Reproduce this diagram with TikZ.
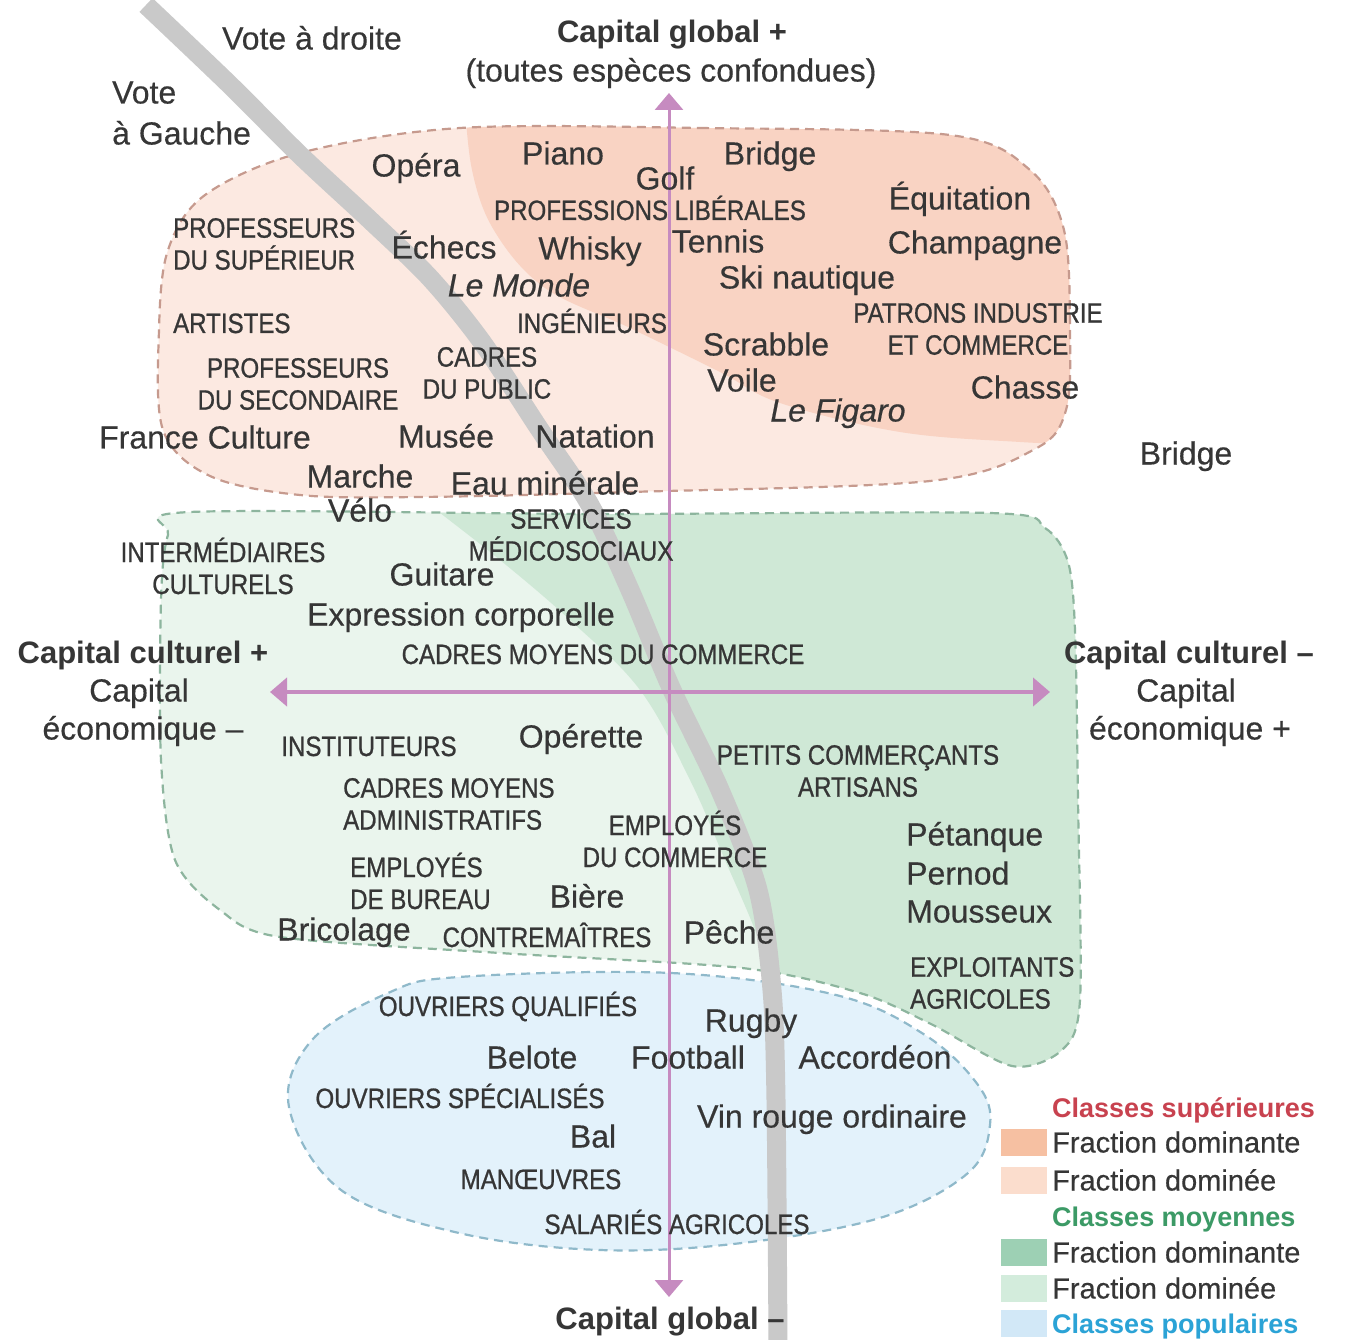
\documentclass[tikz,border=0pt]{standalone}
\usepackage{fontspec}
\setmainfont{Liberation Sans}
\newfontfamily\condf[FakeStretch=0.86,FakeBold=0.8]{Liberation Sans}
\newfontfamily\wordf[FakeBold=0.4]{Liberation Sans}
\usetikzlibrary{arrows.meta}
\definecolor{txt}{HTML}{363636}
\definecolor{axiscol}{HTML}{C68BC0}
\definecolor{graycurve}{HTML}{C9C9C9}
\definecolor{salLight}{HTML}{FCE9E1}
\definecolor{salDark}{HTML}{F9D3C3}
\definecolor{salDash}{HTML}{C69A8E}
\definecolor{grnLight}{HTML}{EAF5ED}
\definecolor{grnDark}{HTML}{CFE8D6}
\definecolor{grnDash}{HTML}{8DB59E}
\definecolor{bluFill}{HTML}{E3F2FB}
\definecolor{bluDash}{HTML}{8FB9CA}
\definecolor{legSalA}{HTML}{F6C0A2}
\definecolor{legSalB}{HTML}{FBDDCD}
\definecolor{legGrnA}{HTML}{9DD0B4}
\definecolor{legGrnB}{HTML}{D3ECDC}
\definecolor{legBlu}{HTML}{D2E8F7}
\definecolor{legRed}{HTML}{C8424F}
\definecolor{legGreen}{HTML}{3C9A66}
\definecolor{legBlue}{HTML}{2BA3D6}
\begin{document}
\begin{tikzpicture}[x=1pt,y=-1pt,
  word/.style={text=txt,font=\wordf\fontsize{32}{38}\selectfont,inner sep=0pt,text height=23pt,text depth=0pt},
  itword/.style={word,font=\wordf\fontsize{32}{38}\selectfont\itshape},
  boldword/.style={word,font=\bfseries\fontsize{31}{38}\selectfont,text height=22pt},
  capsw/.style={text=txt,font=\condf\fontsize{28}{32}\selectfont,inner sep=0pt,text height=20pt,text depth=0pt},
  capsm/.style={text=txt,font=\condf\fontsize{28}{32}\selectfont,inner sep=0pt,align=center},
  capsl/.style={capsm,align=left,anchor=west},
  regiondash/.style={dash pattern=on 9pt off 6pt,line width=2.2pt},
  axisline/.style={draw=axiscol,{Triangle[length=17pt,width=28pt]}-{Triangle[length=17pt,width=28pt]}},
  legsq/.style={rectangle,inner sep=0pt,minimum width=46pt,minimum height=27pt},
  legtitle/.style={font=\bfseries\fontsize{27}{32}\selectfont,inner sep=0pt,anchor=west,text height=20pt,text depth=0pt},
  legtext/.style={text=txt,font=\wordf\fontsize{29}{32}\selectfont,inner sep=0pt,anchor=west,text height=21pt,text depth=0pt}
]
\useasboundingbox (0,0) rectangle (1345,1340);
\fill[white] (0,0) rectangle (1345,1340);

% ---------- upper classes region ----------
\def\salpath{plot[smooth cycle,tension=0.55] coordinates {(460,128) (700,128) (950,135) (1030,170) (1064,230) (1070,330) (1066,410) (1035,449) (930,481) (630,492) (420,497) (300,495) (210,476) (163,430) (159,330) (168,250) (205,195) (300,153)}}
\fill[salLight] \salpath;
\begin{scope}
  \clip \salpath;
  \fill[salDark] plot[smooth,tension=0.6] coordinates {(1100,445) (1020,442) (900,432) (780,403) (720,372) (630,328) (545,288) (495,232) (472,170) (464,90)} -- (1100,90) -- cycle;
\end{scope}
\draw[salDash,regiondash] \salpath;

% ---------- middle classes region ----------
\def\grnpath{plot[smooth cycle,tension=0.5] coordinates {(190,512) (600,514) (990,513) (1045,528) (1068,562) (1075,630) (1078,800) (1080,1000) (1062,1050) (1012,1066) (931,1024) (860,993) (742,968) (500,953) (280,937) (220,910) (175,860) (161,760) (161,600) (168,535)}}
\fill[grnLight] \grnpath;
\begin{scope}
  \clip \grnpath;
  \fill[grnDark] plot[smooth,tension=0.6] coordinates {(800,1100) (780,1000) (755,930) (725,860) (690,780) (640,690) (570,620) (500,560) (430,505) (400,480)} -- (1120,480) -- (1120,1100) -- cycle;
\end{scope}
\draw[grnDash,regiondash] \grnpath;

% ---------- working classes region ----------
\def\blupath{plot[smooth cycle,tension=0.6] coordinates {(459,977) (671,973) (836,995) (925,1035) (978,1085) (990,1125) (968,1173) (883,1217) (742,1243) (600,1250) (459,1233) (341,1190) (289,1107) (312,1040) (388,993)}}
\fill[bluFill] \blupath;
\draw[bluDash,regiondash] \blupath;

% ---------- vote divide ----------
\draw[graycurve,line width=19pt] plot[smooth,tension=0.5] coordinates {(146,5) (230,85) (300,155) (370,220) (430,278) (482,342) (540,430) (590,505) (630,590) (672,690) (720,790) (758,890) (772,990) (776,1100) (778,1345)};

% ---------- axes ----------
\coordinate (axT) at (669,93);
\coordinate (axB) at (669,1297);
\coordinate (axL) at (270,692);
\coordinate (axR) at (1050,692);
\draw[axisline,line width=3pt] (axB) -- (axT);
\draw[axisline,line width=4.5pt] (axL) -- (axR);

% ---------- axis titles ----------
\node[boldword] (tTop) at (672,32) {Capital global +};
\node[word] (tTop2) at (671,70) {(toutes espèces confondues)};
\node[boldword] (tBot) at (670,1318) {Capital global –};
\node[boldword] (tL1) at (143,652) {Capital culturel +};
\node[word] (tL2) at (139,690) {Capital};
\node[word] (tL3) at (143,728) {économique –};
\node[boldword] (tR1) at (1189,652) {Capital culturel –};
\node[word] (tR2) at (1186,690) {Capital};
\node[word] (tR3) at (1190,728) {économique +};

% ---------- vote labels ----------
\node[word] (vDroite) at (312,38) {Vote à droite};
\node[word,anchor=west] (vG1) at (112,92) {Vote};
\node[word,anchor=west] (vG2) at (112,133) {à Gauche};

% ---------- upper region labels ----------
\node[word] (wOpera) at (416,165) {Opéra};
\node[word] (wPiano) at (563,153) {Piano};
\node[word] (wGolf) at (665,178) {Golf};
\node[word] (wBridge) at (770,153) {Bridge};
\node[word] (wEquit) at (960,198) {Équitation};
\node[word] (wChamp) at (975,242) {Champagne};
\node[capsw] (cProfLib) at (650,210) {PROFESSIONS LIBÉRALES};
\node[capsl] (cProfSup) at (173,244) {PROFESSEURS\\DU SUPÉRIEUR};
\node[word] (wEchecs) at (444,247) {Échecs};
\node[word] (wWhisky) at (590,248) {Whisky};
\node[word] (wTennis) at (718,241) {Tennis};
\node[word] (wSki) at (807,277) {Ski nautique};
\node[itword] (wMonde) at (519,285) {Le Monde};
\node[capsw,anchor=west] (cArt) at (173,323) {ARTISTES};
\node[capsw] (cIng) at (592,323) {INGÉNIEURS};
\node[capsm] (cPatrons) at (978,329) {PATRONS INDUSTRIE\\ET COMMERCE};
\node[word] (wScrab) at (766,344) {Scrabble};
\node[capsm] (cProfSec) at (298,384) {PROFESSEURS\\DU SECONDAIRE};
\node[capsm] (cCadPub) at (487,373) {CADRES\\DU PUBLIC};
\node[word] (wVoile) at (742,380) {Voile};
\node[itword] (wFigaro) at (838,410) {Le Figaro};
\node[word] (wChasse) at (1025,387) {Chasse};
\node[word] (wFrCult) at (205,437) {France Culture};
\node[word] (wMusee) at (446,436) {Musée};
\node[word] (wNatat) at (595,436) {Natation};
\node[word] (wBridge2) at (1186,453) {Bridge};
\node[word] (wMarche) at (360,476) {Marche};
\node[word] (wEau) at (545,483) {Eau minérale};
\node[word] (wVelo) at (360,510) {Vélo};

% ---------- middle region labels ----------
\node[capsm] (cServ) at (571,535) {SERVICES\\MÉDICOSOCIAUX};
\node[capsm] (cInter) at (223,566) {INTERMÉDIAIRES\\CULTURELS};
\node[word] (wGuit) at (442,574) {Guitare};
\node[word] (wExpr) at (461,614) {Expression corporelle};
\node[capsw] (cCadCom) at (603,654) {CADRES MOYENS DU COMMERCE};
\node[capsw] (cInst) at (369,746) {INSTITUTEURS};
\node[word] (wOperette) at (581,736) {Opérette};
\node[capsm] (cPetits) at (858,771) {PETITS COMMERÇANTS\\ARTISANS};
\node[capsl] (cCadAdm) at (343,804) {CADRES MOYENS\\ADMINISTRATIFS};
\node[capsm] (cEmpCom) at (675,839) {EMPLOYÉS\\DU COMMERCE};
\node[word,anchor=west] (wPetanque) at (906,834) {Pétanque};
\node[word,anchor=west] (wPernod) at (906,873) {Pernod};
\node[word,anchor=west] (wMouss) at (906,911) {Mousseux};
\node[capsl] (cEmpBur) at (350,881) {EMPLOYÉS\\DE BUREAU};
\node[word] (wBiere) at (587,896) {Bière};
\node[word] (wBrico) at (344,929) {Bricolage};
\node[capsw] (cContre) at (547,937) {CONTREMAÎTRES};
\node[word] (wPeche) at (729,932) {Pêche};
\node[capsl] (cExpl) at (910,983) {EXPLOITANTS\\AGRICOLES};

% ---------- lower region labels ----------
\node[capsw] (cOuvQ) at (508,1006) {OUVRIERS QUALIFIÉS};
\node[word] (wRugby) at (751,1020) {Rugby};
\node[word] (wBelote) at (532,1057) {Belote};
\node[word] (wFoot) at (688,1057) {Football};
\node[word] (wAccord) at (875,1057) {Accordéon};
\node[capsw] (cOuvS) at (460,1098) {OUVRIERS SPÉCIALISÉS};
\node[word] (wVin) at (832,1116) {Vin rouge ordinaire};
\node[word] (wBal) at (593,1136) {Bal};
\node[capsw] (cManoeuv) at (541,1179) {MANŒUVRES};
\node[capsw] (cSalAg) at (677,1224) {SALARIÉS AGRICOLES};

% ---------- legend ----------
\node[legtitle,text=legRed] (lgT1) at (1052,1107) {Classes supérieures};
\node[legsq,fill=legSalA] (lgS1) at (1024,1142) {};
\node[legtext] (lgL1) at (1052,1142) {Fraction dominante};
\node[legsq,fill=legSalB] (lgS2) at (1024,1180) {};
\node[legtext] (lgL2) at (1052,1180) {Fraction dominée};
\node[legtitle,text=legGreen] (lgT2) at (1052,1216) {Classes moyennes};
\node[legsq,fill=legGrnA] (lgS3) at (1024,1252) {};
\node[legtext] (lgL3) at (1052,1252) {Fraction dominante};
\node[legsq,fill=legGrnB] (lgS4) at (1024,1288) {};
\node[legtext] (lgL4) at (1052,1288) {Fraction dominée};
\node[legsq,fill=legBlu] (lgS5) at (1024,1323) {};
\node[legtitle,text=legBlue] (lgT3) at (1052,1323) {Classes populaires};
\end{tikzpicture}
\end{document}
